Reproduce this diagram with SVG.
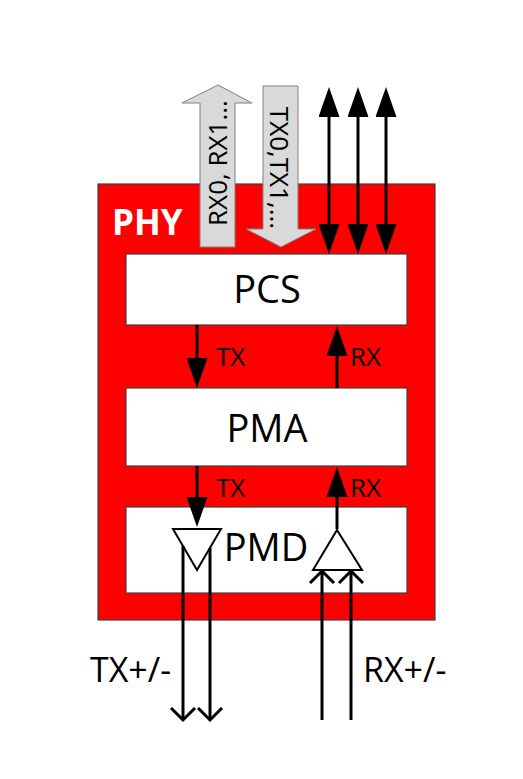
<svg xmlns="http://www.w3.org/2000/svg" width="523" height="779" viewBox="0 0 523 779">
<style>
.box{fill:#ffffff;stroke:#404040;stroke-width:1.2}
.big{font-family:"Open Sans","Liberation Sans",sans-serif;font-size:38px;fill:#000}
.lbl{font-family:"Open Sans","Liberation Sans",sans-serif;font-size:26px;fill:#000}
.pin{font-family:"Open Sans","Liberation Sans",sans-serif;font-size:34px;fill:#000}
.gray{fill:#d9d9d9;stroke:#808080;stroke-width:1}
.ln{stroke:#000;stroke-width:3;fill:none}
.tri{fill:#fff;stroke:#000;stroke-width:2}
</style>
<defs>
<marker id="ah" markerUnits="userSpaceOnUse" viewBox="0 0 30 21" markerWidth="30" markerHeight="21" refX="0" refY="10.5" orient="auto-start-reverse">
<path d="M0,0 L30,10.5 L0,21 z" fill="#000"/>
</marker>
<marker id="open" markerUnits="userSpaceOnUse" viewBox="0 0 16 28" markerWidth="16" markerHeight="28" refX="13" refY="14" orient="auto">
<path d="M1,2 L13,14 L1,26" fill="none" stroke="#000" stroke-width="3"/>
</marker>
</defs>
<rect width="523" height="779" fill="#fff"/>
<g id="phy">
<rect x="98" y="184" width="337" height="436" fill="#ff0000" stroke="#404040" stroke-width="1.2"/>
<text x="112" y="235" font-family="'Open Sans','Liberation Sans',sans-serif" font-size="35" font-weight="bold" fill="#fff">PHY</text>
</g>
<g id="pcs">
<rect class="box" x="126" y="254" width="281" height="71"/>
<text class="big" x="267" y="303" text-anchor="middle">PCS</text>
</g>
<g id="pma">
<rect class="box" x="126" y="388" width="281" height="78"/>
<text class="big" x="267" y="442" text-anchor="middle">PMA</text>
</g>
<g id="pmd">
<rect class="box" x="126" y="507" width="281" height="86"/>
<text class="big" x="266" y="561" text-anchor="middle">PMD</text>
<polygon class="tri" points="173,529 221,529 197,570"/>
<polygon class="tri" points="337,530 362,570 313,570"/>
</g>
<g id="rx-bus">
<polygon class="gray" points="200,247 200,103 182,103 218,85 252,103 235,103 235,247"/>
<text class="lbl" transform="translate(227,163) rotate(-90)" text-anchor="middle">RX0, RX1...</text>
</g>
<g id="tx-bus">
<polygon class="gray" points="263,86 298,86 298,229 316,229 281,247 246,229 263,229"/>
<text class="lbl" transform="translate(270,168) rotate(90)" text-anchor="middle">TX0,TX1,...</text>
</g>
<g id="connectors">
<path class="ln" d="M329,117 L329,224" marker-start="url(#ah)" marker-end="url(#ah)"/>
<path class="ln" d="M358,117 L358,224" marker-start="url(#ah)" marker-end="url(#ah)"/>
<path class="ln" d="M386,117 L386,224" marker-start="url(#ah)" marker-end="url(#ah)"/>
<path class="ln" d="M197,325 L197,358" marker-end="url(#ah)"/>
<path class="ln" d="M337,388 L337,356" marker-end="url(#ah)"/>
<path class="ln" d="M197,466 L197,497" marker-end="url(#ah)"/>
<path class="ln" d="M337,529 L337,497" marker-end="url(#ah)"/>
<path class="ln" d="M183,546 L183,720" marker-end="url(#open)"/>
<path class="ln" d="M210,548 L210,720" marker-end="url(#open)"/>
<path class="ln" d="M322,720 L322,571" marker-end="url(#open)"/>
<path class="ln" d="M351,720 L351,571" marker-end="url(#open)"/>
<text class="lbl" x="216" y="366">TX</text>
<text class="lbl" x="350" y="366">RX</text>
<text class="lbl" x="216" y="497">TX</text>
<text class="lbl" x="350" y="497">RX</text>
<text class="pin" x="90" y="682">TX+/-</text>
<text class="pin" x="363" y="682">RX+/-</text>
</g>
</svg>
